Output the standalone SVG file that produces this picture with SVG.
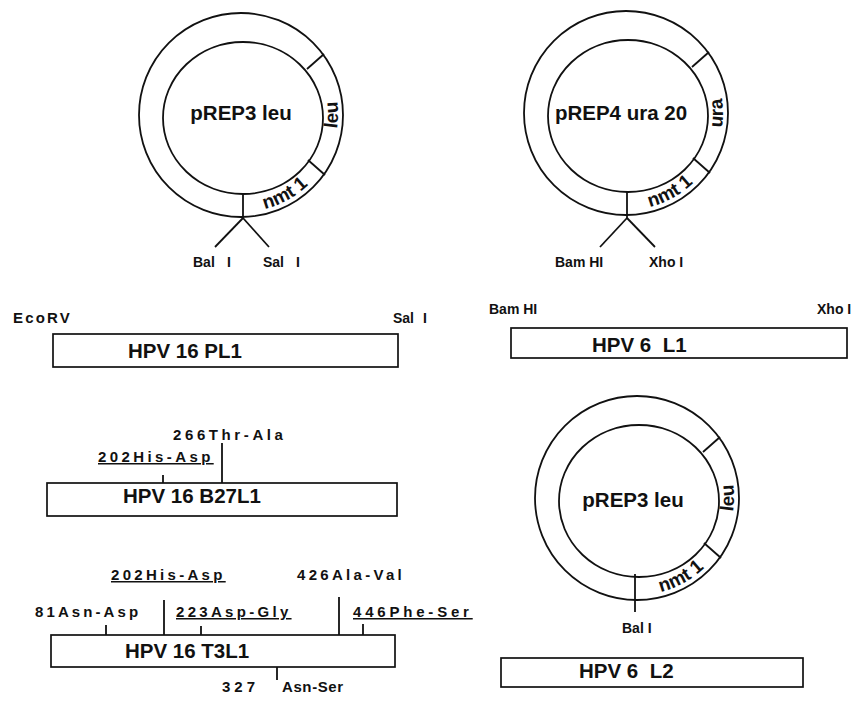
<svg xmlns="http://www.w3.org/2000/svg" xmlns:xlink="http://www.w3.org/1999/xlink" width="856" height="702" viewBox="0 0 856 702">
<style>
text{font-family:"Liberation Sans",Arial,sans-serif;font-weight:bold;fill:#111}
.ring{fill:none;stroke:#111;stroke-width:1.8}
.ln{stroke:#111;stroke-width:1.8;fill:none}
.bar{fill:#fff;stroke:#111;stroke-width:1.7}
.title{font-size:20.5px}
.ptitle{font-size:20.5px}
.seg{font-size:19px}
.site{font-size:14px}
.mut{font-size:15px}
.ul{text-decoration:underline}
</style>
<defs>
<path id="arcNmt" d="M 0 97 A 97 97 0 0 0 80.4 54.2"/>
<path id="arcMark" d="M 79.5 55.6 A 97 97 0 0 0 79.5 -55.6"/>
<g id="ring">
<circle class="ring" cx="0" cy="0" r="102"/>
<ellipse class="ring" cx="2" cy="3" rx="80" ry="76"/>
<line class="ln" x1="66" y1="-46" x2="83" y2="-61"/>
<line class="ln" x1="67" y1="45" x2="84" y2="60"/>
</g>
</defs>

<g id="pREP3-leu-top" transform="translate(241,115)">
<use xlink:href="#ring" href="#ring"/>
<text class="ptitle" x="0" y="5" text-anchor="middle">pREP3 leu</text>
<text class="seg"><textPath xlink:href="#arcMark" href="#arcMark" startOffset="50%" text-anchor="middle">leu</textPath></text>
<text class="seg"><textPath xlink:href="#arcNmt" href="#arcNmt" startOffset="52%" text-anchor="middle">nmt 1</textPath></text>
</g>

<g id="pREP4-ura20" transform="translate(626,113)">
<use xlink:href="#ring" href="#ring"/>
<text class="ptitle" x="-5" y="7" text-anchor="middle">pREP4 ura 20</text>
<text class="seg"><textPath xlink:href="#arcMark" href="#arcMark" startOffset="50%" text-anchor="middle">ura</textPath></text>
<text class="seg"><textPath xlink:href="#arcNmt" href="#arcNmt" startOffset="52%" text-anchor="middle">nmt 1</textPath></text>
</g>

<g id="pREP3-leu-bottom" transform="translate(637,498)">
<use xlink:href="#ring" href="#ring"/>
<text class="ptitle" x="-4" y="9" text-anchor="middle">pREP3 leu</text>
<text class="seg"><textPath xlink:href="#arcMark" href="#arcMark" startOffset="50%" text-anchor="middle">leu</textPath></text>
<text class="seg"><textPath xlink:href="#arcNmt" href="#arcNmt" startOffset="52%" text-anchor="middle">nmt 1</textPath></text>
</g>

<g id="site-labels">
<text class="site" x="193" y="267">Bal<tspan x="227">I</tspan></text>
<text class="site" x="263" y="267">Sal<tspan x="296">I</tspan></text>
<text class="site" x="555" y="267">Bam HI</text>
<text class="site" x="649" y="267">Xho I</text>
<text class="site" x="622" y="633">Bal I</text>
</g>

<g id="HPV16-PL1">
<rect class="bar" x="53" y="334" width="345" height="33"/>
<text class="title" x="128" y="358">HPV 16 PL1</text>
<text class="mut" x="13" y="323" style="letter-spacing:2.2px">EcoRV</text>
<text class="site" x="393" y="323">Sal<tspan x="423">I</tspan></text>
</g>

<g id="HPV6-L1">
<rect class="bar" x="511" y="328" width="336" height="30"/>
<text class="title" x="592" y="352" xml:space="preserve">HPV 6  L1</text>
<text class="site" x="489" y="314">Bam HI</text>
<text class="site" x="817" y="314">Xho I</text>
</g>

<g id="HPV16-B27L1">
<rect class="bar" x="47" y="483" width="350" height="33"/>
<text class="title" x="123" y="503">HPV 16 B27L1</text>
<text class="mut" x="173" y="440" style="letter-spacing:3.6px">266Thr-Ala</text>
<text class="mut ul" x="98" y="462" style="letter-spacing:3.4px">202His-Asp</text>
</g>

<g id="HPV16-T3L1">
<rect class="bar" x="51" y="635" width="344" height="32"/>
<text class="title" x="125" y="658">HPV 16 T3L1</text>
<text class="mut ul" x="111" y="580" style="letter-spacing:3.3px">202His-Asp</text>
<text class="mut" x="297" y="580" style="letter-spacing:3.3px">426Ala-Val</text>
<text class="mut" x="35" y="617" style="letter-spacing:3.1px">81Asn-Asp</text>
<text class="mut ul" x="176" y="617" style="letter-spacing:3.3px">223Asp-Gly</text>
<text class="mut ul" x="353" y="617" style="letter-spacing:3.8px">446Phe-Ser</text>
<text class="mut" x="222" y="692"><tspan style="letter-spacing:4px">327</tspan><tspan x="282" style="letter-spacing:0.6px">Asn-Ser</tspan></text>
</g>

<g id="HPV6-L2">
<rect class="bar" x="501" y="658" width="302" height="29"/>
<text class="title" x="579" y="678" xml:space="preserve">HPV 6  L2</text>
</g>

<g id="connectors">
<line class="ln" x1="243" y1="195" x2="243" y2="218"/>
<line class="ln" x1="243" y1="218" x2="215" y2="247"/>
<line class="ln" x1="243" y1="218" x2="269" y2="247"/>
<line class="ln" x1="627" y1="191" x2="627" y2="218"/>
<line class="ln" x1="627" y1="218" x2="600" y2="247"/>
<line class="ln" x1="627" y1="218" x2="655" y2="247"/>
<line class="ln" x1="635" y1="574" x2="635" y2="612"/>
<line class="ln" x1="222" y1="443" x2="222" y2="483"/>
<line class="ln" x1="163" y1="475" x2="163" y2="483"/>
<line class="ln" x1="106" y1="625" x2="106" y2="635"/>
<line class="ln" x1="164" y1="600" x2="164" y2="635"/>
<line class="ln" x1="201" y1="626" x2="201" y2="635"/>
<line class="ln" x1="339" y1="597" x2="339" y2="635"/>
<line class="ln" x1="363" y1="624" x2="363" y2="635"/>
<line class="ln" x1="277" y1="667" x2="277" y2="680"/>
</g>
</svg>
